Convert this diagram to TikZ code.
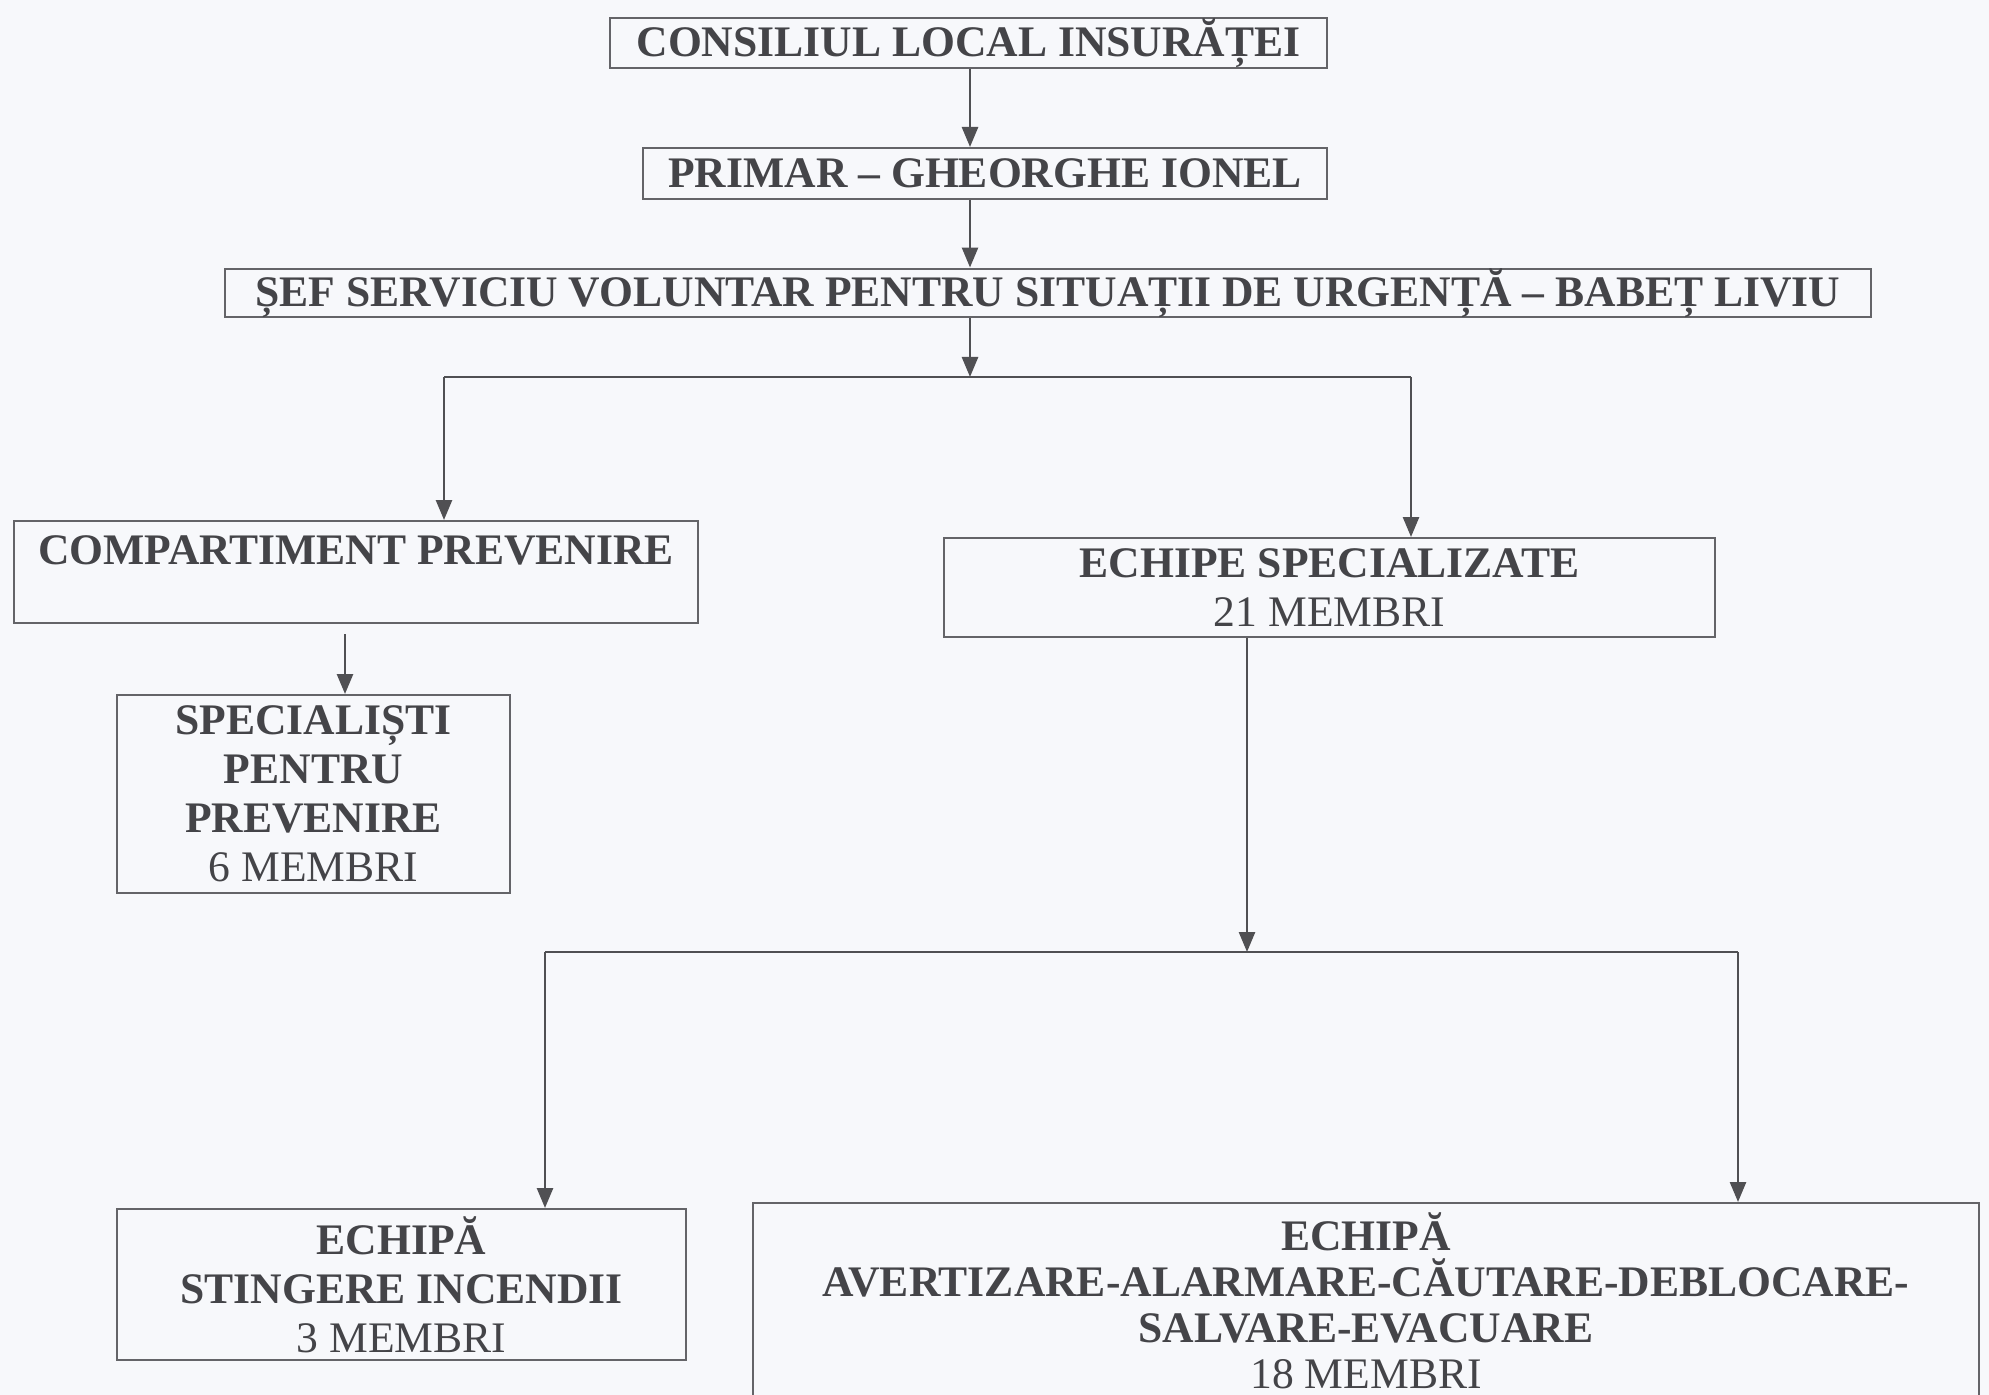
\documentclass[tikz,border=0pt]{standalone}
\usepackage{fontspec}
\setmainfont{Liberation Serif}
\usepackage{tikz}
\usetikzlibrary{arrows.meta}
\definecolor{paper}{RGB}{247,248,251}
\definecolor{ink}{RGB}{68,68,72}
\definecolor{rule}{RGB}{100,100,104}
\newcommand\orgfont{\fontsize{21.8}{24.5}\selectfont}
\tikzstyle{org}=[draw=rule,line width=1pt,inner sep=0pt,align=center,text=ink,font=\orgfont\bfseries]
\tikzstyle{ln} =[draw=rule!80!black,line width=1.3pt]
\tikzstyle{ar} =[ln,-{Triangle[length=10pt,width=8pt]}]
\begin{document}
\begin{tikzpicture}[x=0.5pt,y=-0.5pt]
	\fill[paper] (0,0) rectangle (1989,1395);
	\useasboundingbox (0,0) rectangle (1989,1395);
	\node[org,minimum width=358.5pt,minimum height=25pt] (cons) at (968.5,43) {CONSILIUL LOCAL INSURĂȚEI};
	\node[org,minimum width=342pt,minimum height=25.5pt] (primar) at (985,173.5) {PRIMAR – GHEORGHE IONEL};
	\node[org,minimum width=823pt,minimum height=24pt] (sef) at (1048,293) {ȘEF SERVICIU VOLUNTAR PENTRU SITUAȚII DE URGENȚĂ – BABEȚ LIVIU};
	\node[org,minimum width=342pt,text height=21.5pt,text depth=29.5pt,anchor=north] (comp) at (356,520) {COMPARTIMENT PREVENIRE};
	\node[org,minimum width=196.5pt,minimum height=99pt] (spec) at (313.5,794) {SPECIALIȘTI\\PENTRU\\PREVENIRE\\{\mdseries 6 MEMBRI}};
	\node[org,minimum width=385.5pt,minimum height=49.5pt] (echipe) at (1329.5,587.5) {ECHIPE SPECIALIZATE\\{\mdseries 21 MEMBRI}};
	\node[org,minimum width=284.5pt,minimum height=75.5pt] (sting) at (401.5,1284.5) {ECHIPĂ\\STINGERE INCENDII\\{\mdseries 3 MEMBRI}};
	\node[org,minimum width=613pt,minimum height=98pt,font=\fontsize{21.8}{23}\selectfont\bfseries] (avert) at (1366,1301) {ECHIPĂ\\AVERTIZARE-ALARMARE-CĂUTARE-DEBLOCARE-\\SALVARE-EVACUARE\\{\mdseries 18 MEMBRI}};
	\coordinate (a1) at (970,377);
	\coordinate (a2) at (444,377);
	\coordinate (a3) at (1411,377);
	\coordinate (b1) at (345,634);
	\coordinate (c1) at (1247,952);
	\coordinate (c2) at (545,952);
	\coordinate (c3) at (1738,952);
	\draw[ar] (a1 |- cons.south) -- (a1 |- primar.north);
	\draw[ar] (a1 |- primar.south) -- (a1 |- sef.north);
	\draw[ar] (a1 |- sef.south) -- (a1);
	\draw[ln] (a2) -- (a3);
	\draw[ar] (a2) -- (a2 |- comp.north);
	\draw[ar] (a3) -- (a3 |- echipe.north);
	\draw[ar] (b1) -- (b1 |- spec.north);
	\draw[ar] (c1 |- echipe.south) -- (c1);
	\draw[ln] (c2) -- (c3);
	\draw[ar] (c2) -- (c2 |- sting.north);
	\draw[ar] (c3) -- (c3 |- avert.north);
\end{tikzpicture}
\end{document}
